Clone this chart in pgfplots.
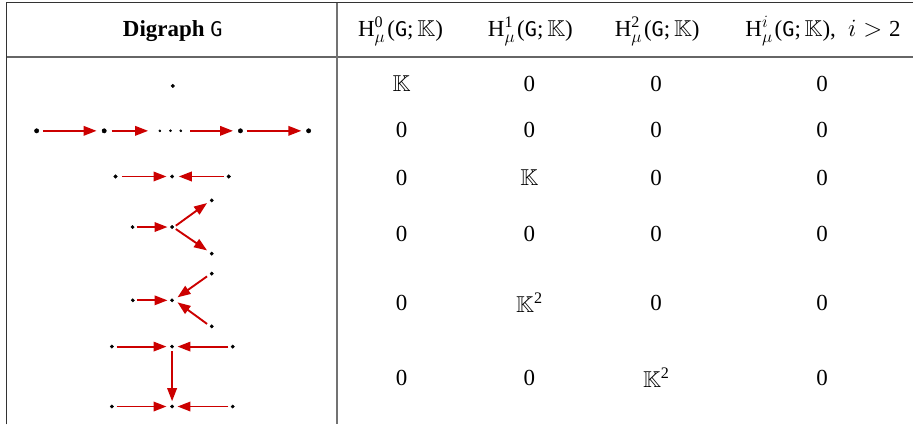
\documentclass[border=0pt]{standalone}
\usepackage{amsmath,amssymb}
\usepackage{fontspec}
\setmainfont{Liberation Serif}
\setmonofont{DejaVu Sans Mono}[Scale=0.88]
\usepackage{pgfplots}
\pgfplotsset{compat=1.18}
\usetikzlibrary{arrows.meta}
\definecolor{myred}{RGB}{204,0,0}
\pgfplotsset{
  arr/.style={draw=myred, line width=1.9pt, -{Triangle[length=13pt,width=9.5pt]}, no marks},
  dots/.style={only marks, mark=*, mark size=1.8pt, black},
}
\newcommand{\Hd}[1]{H$^{\text{#1}}_{\mu}$\kern2pt(\texttt{G};\,$\mathbb{K}$)}
\newcommand{\Hi}{H$^{i}_{\mu}$\kern2pt(\texttt{G};\,$\mathbb{K}$),\; $i>\text{2}$}
\newcommand{\KK}{$\mathbb{K}$}
\newcommand{\KKs}{$\mathbb{K}^{\text{2}}$}
\begin{document}
\fontsize{23}{27}\selectfont
\begin{tikzpicture}
\begin{axis}[hide axis, scale only axis, width=914pt, height=425pt,
  xmin=0, xmax=914, ymin=0, ymax=425, y dir=reverse, clip=false]
\addplot[draw=none] coordinates {(0,0) (914,425)};
% table rules
\addplot[draw=black!80, line width=1.4pt, no marks] coordinates {(6.7,425) (6.7,2.7) (914,2.7)};
\addplot[draw=black!60, line width=2.2pt, no marks] coordinates {(6.7,56.7) (914,56.7)};
\addplot[draw=black!55, line width=1.3pt, no marks] coordinates {(337.5,2.7) (337.5,425)};
% header
\node at (axis cs:173,31) {\textbf{Digraph} \texttt{G}};
\node at (axis cs:401,31) {\Hd{0}};
\node at (axis cs:531,31) {\Hd{1}};
\node at (axis cs:658,31) {\Hd{2}};
\node at (axis cs:824,31) {\Hi};
% body values
\node at (axis cs:402,84) {\KK};
\node at (axis cs:530,84) {0};
\node at (axis cs:657,84) {0};
\node at (axis cs:823,84) {0};
\node at (axis cs:402,130) {0};
\node at (axis cs:530,130) {0};
\node at (axis cs:657,130) {0};
\node at (axis cs:823,130) {0};
\node at (axis cs:402,178) {0};
\node at (axis cs:530,178) {\KK};
\node at (axis cs:657,178) {0};
\node at (axis cs:823,178) {0};
\node at (axis cs:402,234) {0};
\node at (axis cs:530,234) {0};
\node at (axis cs:657,234) {0};
\node at (axis cs:823,234) {0};
\node at (axis cs:402,303) {0};
\node at (axis cs:530,303) {\KKs};
\node at (axis cs:657,303) {0};
\node at (axis cs:823,303) {0};
\node at (axis cs:402,378) {0};
\node at (axis cs:530,378) {0};
\node at (axis cs:657,378) {\KKs};
\node at (axis cs:823,378) {0};
% row 1
\addplot[dots] coordinates {(173,86)};
% row 2
\addplot[dots, mark size=2.2pt] coordinates {(36.7,131) (104.3,131) (240.7,131) (309,131)};
\addplot[dots, mark size=1.1pt] coordinates {(160,131) (170.7,131) (181,131)};
\addplot[arr] coordinates {(43,131) (96.7,131)};
\addplot[arr] coordinates {(111.7,131) (148.3,131)};
\addplot[arr] coordinates {(190.7,131) (233.3,131)};
\addplot[arr] coordinates {(247,131) (301.7,131)};
% row 3
\addplot[dots] coordinates {(115.7,176.7) (172.3,176.7) (229,176.7)};
\addplot[arr] coordinates {(122,176.7) (166.7,176.7)};
\addplot[arr] coordinates {(224,176.7) (179,176.7)};
% row 4
\addplot[dots, mark size=1.7pt] coordinates {(132.7,227.3) (172.3,227.3) (212,200.7) (212,254)};
\addplot[arr] coordinates {(136.7,227.3) (167.7,227.3)};
\addplot[arr] coordinates {(176,226) (207.3,203.3)};
\addplot[arr] coordinates {(176,229.3) (207.3,250.7)};
% row 5
\addplot[dots, mark size=1.7pt] coordinates {(133,300.7) (172.3,300.7) (212,274) (212,326.7)};
\addplot[arr] coordinates {(137,300.7) (167.7,300.7)};
\addplot[arr] coordinates {(207.3,276.7) (177.7,297.7)};
\addplot[arr] coordinates {(207.3,324.3) (177.7,302.7)};
% row 6
\addplot[dots, mark size=1.7pt] coordinates {(112,347) (172.3,347) (233,347) (112,407) (172.3,407) (233,407)};
\addplot[arr] coordinates {(116.7,347) (166.7,347)};
\addplot[arr] coordinates {(228.7,347) (177.7,347)};
\addplot[arr] coordinates {(172.3,351.7) (172.3,401.7)};
\addplot[arr] coordinates {(116.7,407) (166.7,407)};
\addplot[arr] coordinates {(228.7,407) (177.7,407)};
\end{axis}
\end{tikzpicture}
\end{document}
